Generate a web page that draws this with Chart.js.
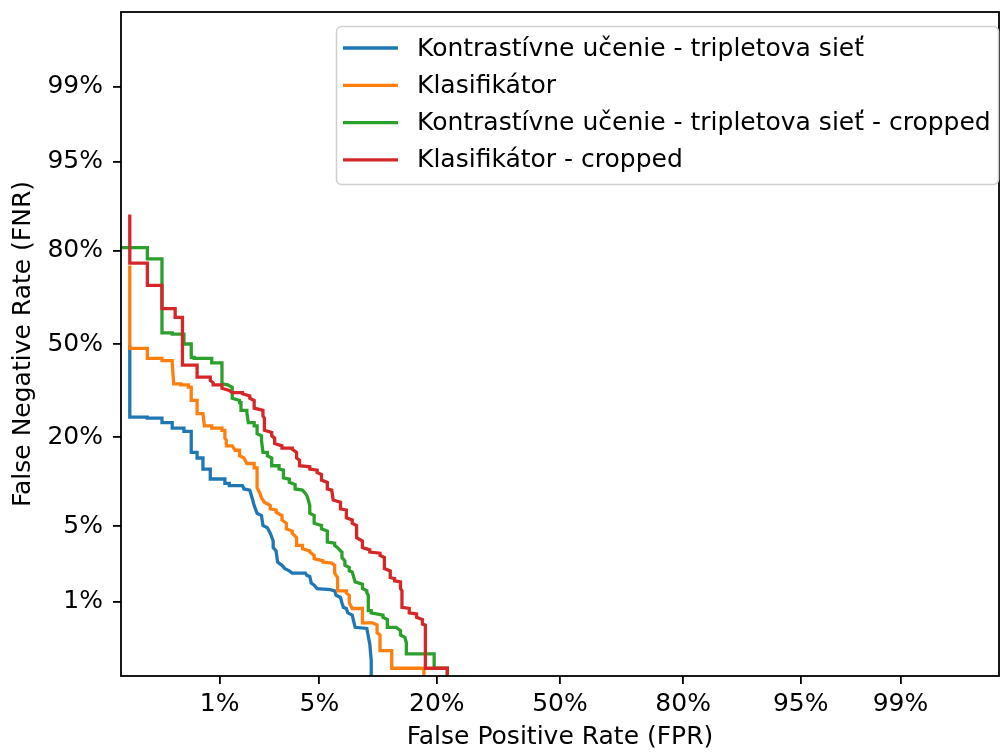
<!DOCTYPE html>
<html>
<head>
<meta charset="utf-8">
<script src="https://cdn.jsdelivr.net/npm/chart.js@4.4.1/dist/chart.umd.min.js"></script>
<style>
  body { margin: 0; background: #fff; }
  #wrap { width: 1001px; height: 752px; }
</style>
</head>
<body>
<div id="wrap"><canvas id="det" width="1001" height="752"></canvas></div>
<script>
// DET krivky - hodnoty su normalne kvantily (probit) FPR a FNR, odcitane z obrazku
const seriesNames = [
  "Kontrastívne učenie - tripletova sieť",
  "Klasifikátor",
  "Kontrastívne učenie - tripletova sieť - cropped",
  "Klasifikátor - cropped"
];
const seriesColors = ["#1f77b4", "#ff7f0e", "#2ca02c", "#d62728"];

// [fpr, fnr]
const tripletPts = [[-2.94,-0.01],[-2.94,-0.66],[-2.82,-0.66],[-2.82,-0.67],[-2.72,-0.67],[-2.72,-0.71],[-2.65,-0.71],[-2.65,-0.76],[-2.57,-0.76],[-2.57,-0.79],[-2.52,-0.79],[-2.52,-0.98],[-2.48,-0.98],[-2.48,-1.03],[-2.44,-1.03],[-2.44,-1.13],[-2.39,-1.13],[-2.39,-1.22],[-2.29,-1.22],[-2.29,-1.26],[-2.26,-1.26],[-2.26,-1.28],[-2.17,-1.28],[-2.16,-1.31],[-2.12,-1.32],[-2.10,-1.41],[-2.09,-1.46],[-2.07,-1.53],[-2.04,-1.55],[-2.03,-1.64],[-2.00,-1.66],[-1.98,-1.71],[-1.96,-1.78],[-1.96,-1.84],[-1.94,-1.87],[-1.93,-1.97],[-1.90,-2.00],[-1.88,-2.03],[-1.85,-2.05],[-1.83,-2.07],[-1.74,-2.07],[-1.73,-2.09],[-1.71,-2.10],[-1.70,-2.16],[-1.68,-2.18],[-1.66,-2.21],[-1.57,-2.22],[-1.54,-2.23],[-1.53,-2.27],[-1.50,-2.29],[-1.49,-2.34],[-1.48,-2.38],[-1.46,-2.39],[-1.45,-2.43],[-1.42,-2.45],[-1.40,-2.56],[-1.32,-2.57],[-1.30,-2.71],[-1.29,-2.86],[-1.29,-3.5]];

const klasPts = [[-2.94,0.71],[-2.94,-0.04],[-2.82,-0.04],[-2.82,-0.13],[-2.72,-0.13],[-2.72,-0.15],[-2.65,-0.15],[-2.65,-0.17],[-2.64,-0.36],[-2.59,-0.36],[-2.59,-0.37],[-2.54,-0.37],[-2.54,-0.39],[-2.52,-0.39],[-2.52,-0.51],[-2.48,-0.51],[-2.48,-0.63],[-2.44,-0.63],[-2.43,-0.74],[-2.38,-0.74],[-2.38,-0.76],[-2.31,-0.76],[-2.31,-0.78],[-2.29,-0.78],[-2.29,-0.85],[-2.28,-0.87],[-2.28,-0.92],[-2.24,-0.92],[-2.22,-0.96],[-2.19,-0.96],[-2.19,-1.01],[-2.16,-1.03],[-2.14,-1.08],[-2.09,-1.08],[-2.09,-1.12],[-2.07,-1.12],[-2.07,-1.30],[-2.05,-1.35],[-2.04,-1.39],[-2.02,-1.43],[-1.98,-1.46],[-1.98,-1.49],[-1.94,-1.50],[-1.94,-1.52],[-1.90,-1.55],[-1.90,-1.59],[-1.87,-1.62],[-1.87,-1.67],[-1.83,-1.69],[-1.83,-1.71],[-1.80,-1.75],[-1.80,-1.82],[-1.76,-1.82],[-1.76,-1.85],[-1.71,-1.87],[-1.71,-1.88],[-1.68,-1.91],[-1.68,-1.94],[-1.62,-1.96],[-1.62,-1.97],[-1.56,-1.98],[-1.54,-2.00],[-1.54,-2.07],[-1.52,-2.11],[-1.52,-2.23],[-1.46,-2.23],[-1.46,-2.25],[-1.44,-2.27],[-1.44,-2.34],[-1.42,-2.39],[-1.35,-2.39],[-1.35,-2.41],[-1.35,-2.52],[-1.28,-2.52],[-1.25,-2.54],[-1.25,-2.61],[-1.23,-2.63],[-1.23,-2.77],[-1.15,-2.77],[-1.15,-2.93],[-0.93,-2.93],[-0.93,-3.5]];

const tripletCropPts = [[-3.3,0.87],[-2.82,0.87],[-2.82,0.77],[-2.72,0.77],[-2.72,0.10],[-2.65,0.10],[-2.65,0.09],[-2.57,0.09],[-2.57,0.00],[-2.52,0.00],[-2.52,-0.12],[-2.50,-0.12],[-2.50,-0.13],[-2.38,-0.13],[-2.38,-0.17],[-2.31,-0.17],[-2.31,-0.36],[-2.27,-0.37],[-2.24,-0.39],[-2.24,-0.49],[-2.19,-0.51],[-2.19,-0.53],[-2.18,-0.53],[-2.18,-0.60],[-2.14,-0.60],[-2.14,-0.62],[-2.13,-0.71],[-2.09,-0.71],[-2.09,-0.74],[-2.07,-0.74],[-2.07,-0.81],[-2.04,-0.83],[-2.04,-0.87],[-2.03,-0.98],[-2.00,-0.98],[-2.00,-1.01],[-1.97,-1.03],[-1.97,-1.10],[-1.92,-1.10],[-1.92,-1.13],[-1.89,-1.14],[-1.89,-1.21],[-1.85,-1.22],[-1.85,-1.25],[-1.81,-1.27],[-1.81,-1.31],[-1.76,-1.32],[-1.74,-1.35],[-1.73,-1.37],[-1.72,-1.41],[-1.71,-1.46],[-1.71,-1.53],[-1.68,-1.55],[-1.68,-1.62],[-1.63,-1.64],[-1.63,-1.67],[-1.59,-1.69],[-1.59,-1.79],[-1.54,-1.80],[-1.54,-1.82],[-1.52,-1.84],[-1.50,-1.87],[-1.49,-1.88],[-1.49,-1.93],[-1.47,-1.96],[-1.47,-2.00],[-1.44,-2.02],[-1.44,-2.05],[-1.42,-2.06],[-1.40,-2.15],[-1.35,-2.17],[-1.35,-2.21],[-1.32,-2.23],[-1.32,-2.25],[-1.31,-2.27],[-1.31,-2.41],[-1.29,-2.41],[-1.29,-2.43],[-1.21,-2.45],[-1.21,-2.47],[-1.18,-2.49],[-1.18,-2.56],[-1.12,-2.56],[-1.09,-2.59],[-1.09,-2.63],[-1.06,-2.65],[-1.05,-2.70],[-1.05,-2.80],[-0.86,-2.80],[-0.86,-2.93],[-0.77,-2.93],[-0.77,-3.5]];

const klasCropPts = [[-2.94,1.17],[-2.94,0.73],[-2.82,0.73],[-2.82,0.53],[-2.72,0.53],[-2.72,0.32],[-2.63,0.32],[-2.63,0.24],[-2.58,0.24],[-2.58,-0.19],[-2.48,-0.19],[-2.48,-0.21],[-2.48,-0.30],[-2.39,-0.30],[-2.39,-0.33],[-2.37,-0.35],[-2.37,-0.37],[-2.31,-0.37],[-2.31,-0.40],[-2.26,-0.42],[-2.24,-0.44],[-2.17,-0.44],[-2.17,-0.45],[-2.12,-0.47],[-2.12,-0.49],[-2.09,-0.51],[-2.09,-0.58],[-2.03,-0.60],[-2.03,-0.65],[-2.02,-0.67],[-2.02,-0.78],[-1.97,-0.80],[-1.97,-0.83],[-1.95,-0.85],[-1.95,-0.90],[-1.90,-0.92],[-1.90,-0.94],[-1.83,-0.94],[-1.83,-0.95],[-1.80,-0.98],[-1.80,-1.03],[-1.78,-1.05],[-1.78,-1.10],[-1.71,-1.11],[-1.71,-1.13],[-1.66,-1.14],[-1.66,-1.16],[-1.63,-1.18],[-1.63,-1.23],[-1.59,-1.25],[-1.59,-1.31],[-1.56,-1.32],[-1.55,-1.41],[-1.50,-1.43],[-1.50,-1.49],[-1.46,-1.50],[-1.46,-1.57],[-1.42,-1.59],[-1.42,-1.62],[-1.39,-1.64],[-1.39,-1.75],[-1.35,-1.78],[-1.35,-1.84],[-1.30,-1.86],[-1.30,-1.88],[-1.23,-1.89],[-1.23,-1.91],[-1.20,-1.93],[-1.20,-2.03],[-1.16,-2.05],[-1.16,-2.11],[-1.13,-2.12],[-1.13,-2.14],[-1.09,-2.15],[-1.09,-2.21],[-1.08,-2.23],[-1.08,-2.38],[-1.03,-2.39],[-1.03,-2.43],[-0.98,-2.44],[-0.98,-2.47],[-0.94,-2.49],[-0.94,-2.53],[-0.92,-2.54],[-0.92,-2.93],[-0.77,-2.93],[-0.77,-3.5]];

// popisy osi
const tickProbs = [0.01, 0.05, 0.2, 0.5, 0.8, 0.95, 0.99];
const tickLabels = ["1%", "5%", "20%", "50%", "80%", "95%", "99%"];

// inverzna normalna distribucia (Acklam)
const probit = (p) => {
  const a = [-3.969683028665376e+01, 2.209460984245205e+02, -2.759285104469687e+02, 1.383577518672690e+02, -3.066479806614716e+01, 2.506628277459239e+00];
  const b = [-5.447609879822406e+01, 1.615858368580409e+02, -1.556989798598866e+02, 6.680131188771972e+01, -1.328068155288572e+01];
  const c = [-7.784894002430293e-03, -3.223964580411365e-01, -2.400758277161838e+00, -2.549732539343734e+00, 4.374664141464968e+00, 2.938163982698783e+00];
  const d = [7.784695709041462e-03, 3.224671290700398e-01, 2.445134137142996e+00, 3.754408661907416e+00];
  const plow = 0.02425;
  if (p < plow) {
    const q = Math.sqrt(-2 * Math.log(p));
    return (((((c[0]*q+c[1])*q+c[2])*q+c[3])*q+c[4])*q+c[5]) / ((((d[0]*q+d[1])*q+d[2])*q+d[3])*q+1);
  }
  if (p <= 1 - plow) {
    const q = p - 0.5, r = q * q;
    return (((((a[0]*r+a[1])*r+a[2])*r+a[3])*r+a[4])*r+a[5])*q / (((((b[0]*r+b[1])*r+b[2])*r+b[3])*r+b[4])*r+1);
  }
  const q = Math.sqrt(-2 * Math.log(1 - p));
  return -(((((c[0]*q+c[1])*q+c[2])*q+c[3])*q+c[4])*q+c[5]) / ((((d[0]*q+d[1])*q+d[2])*q+d[3])*q+1);
};
const tickPos = tickProbs.map(probit);

const FONT = "'DejaVu Sans', sans-serif";
const FSIZE = 25;
const toXY = (pts) => pts.map((p) => ({ x: p[0], y: p[1] }));
const allPts = [tripletPts, klasPts, tripletCropPts, klasCropPts];

// ramik okolo grafu (vsetky 4 strany)
const framePlugin = {
  id: "frame",
  afterDatasetsDraw(chart) {
    const { ctx, chartArea: a } = chart;
    ctx.save();
    ctx.strokeStyle = "#000";
    ctx.lineWidth = 1.8;
    ctx.strokeRect(a.left, a.top, a.right - a.left, a.bottom - a.top);
    ctx.restore();
  }
};

// legenda vo vnutri grafu vpravo hore
const legendPlugin = {
  id: "detLegend",
  afterDraw(chart) {
    const { ctx, chartArea: a } = chart;
    const x0 = a.right - 663, y0 = a.top + 14, w = 662, h = 158;
    ctx.save();
    ctx.beginPath();
    ctx.roundRect(x0 + 0.5, y0 + 0.5, w, h, 5);
    ctx.fillStyle = "rgba(255,255,255,0.8)";
    ctx.fill();
    ctx.strokeStyle = "#d0d0d0";
    ctx.lineWidth = 1.5;
    ctx.stroke();
    ctx.font = FSIZE + "px " + FONT;
    ctx.textBaseline = "middle";
    ctx.textAlign = "left";
    seriesNames.forEach((name, i) => {
      const y = y0 + 22 + i * 37.3;
      ctx.strokeStyle = seriesColors[i];
      ctx.lineWidth = 3.3;
      ctx.beginPath();
      ctx.moveTo(x0 + 7, y);
      ctx.lineTo(x0 + 62, y);
      ctx.stroke();
      ctx.fillStyle = "#000";
      ctx.fillText(name, x0 + 81, y + 1);
    });
    ctx.restore();
  }
};

const axisCommon = (titleText) => ({
  type: "linear",
  min: -3,
  max: 3,
  afterBuildTicks: (axis) => {
    axis.ticks = tickPos.map((v) => ({ value: v }));
  },
  ticks: {
    autoSkip: false,
    maxRotation: 0,
    color: "#000",
    font: { family: FONT, size: FSIZE },
    callback: (v, i) => tickLabels[i]
  },
  grid: {
    display: true,
    drawOnChartArea: false,
    drawTicks: true,
    tickLength: 8,
    color: "#000",
    lineWidth: 1.8
  },
  border: { display: false },
  title: {
    display: true,
    text: titleText,
    color: "#000",
    font: { family: FONT, size: FSIZE }
  }
});

const xAxis = axisCommon("False Positive Rate (FPR)");
xAxis.ticks.padding = 5;
xAxis.title.padding = { top: 0, bottom: 0 };
xAxis.afterFit = (scale) => {
  scale.height = 76;
  scale.paddingLeft = 0;
  scale.paddingRight = 0;
};

const yAxis = axisCommon("False Negative Rate (FNR)");
yAxis.ticks.padding = 10;
yAxis.title.padding = { top: 8, bottom: 0 };
yAxis.afterFit = (scale) => {
  scale.width = 121;
  scale.paddingTop = 0;
  scale.paddingBottom = 0;
};

new Chart(document.getElementById("det"), {
  type: "line",
  data: {
    datasets: allPts.map((pts, i) => ({
      label: seriesNames[i],
      data: toXY(pts),
      borderColor: seriesColors[i],
      backgroundColor: seriesColors[i],
      borderWidth: 3.3,
      pointRadius: 0,
      tension: 0,
      fill: false,
      clip: 0,
      order: 4 - i
    }))
  },
  options: {
    responsive: false,
    animation: false,
    devicePixelRatio: 1,
    layout: { padding: { top: 12, right: 2, left: 0, bottom: 0 } },
    plugins: {
      legend: { display: false },
      tooltip: { enabled: false }
    },
    scales: { x: xAxis, y: yAxis }
  },
  plugins: [framePlugin, legendPlugin]
});
</script>
</body>
</html>
